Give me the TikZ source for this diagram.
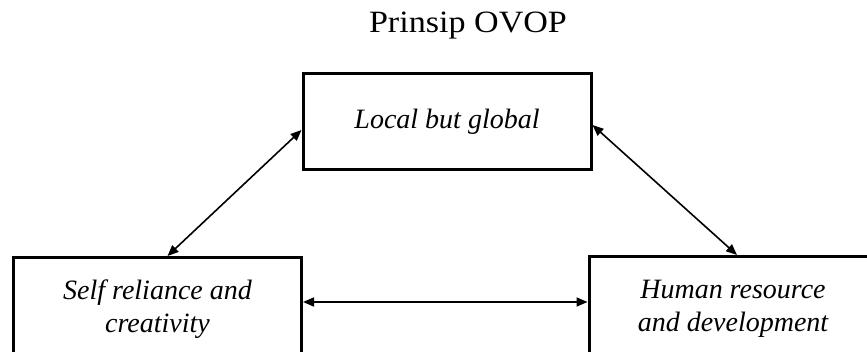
\documentclass[tikz,border=0pt]{standalone}
\usepackage{fontspec}
\setmainfont{Liberation Serif}
\newfontfamily\titlefont[FakeStretch=1.1]{Liberation Serif}
\usetikzlibrary{arrows.meta}
\tikzset{
  box/.style={draw, line width=3pt, minimum width=288pt, minimum height=96pt, inner sep=0pt, align=center, font=\fontsize{28}{33}\selectfont\itshape},
  lowbox/.style={box, minimum height=104pt},
  link/.style={line width=1.6pt, {Triangle[length=11pt,width=9pt]}-{Triangle[length=11pt,width=9pt]}}
}
\begin{document}
\begin{tikzpicture}[x=1pt,y=1pt]
\useasboundingbox (0,0) rectangle (867,-352);
\node[font=\titlefont\fontsize{31}{34}\selectfont, anchor=base] (title) at (468,-33) {Prinsip OVOP};
\node[box] (top) at (447,-122) {Local but global};
\node[lowbox] (left) at (157.5,-309.5) {Self reliance and\\creativity};
\node[lowbox] (right) at (733,-308.5) {Human resource\\and development};
\draw[link] ([yshift=-8pt]top.west) -- ([xshift=10pt]left.north);
\draw[link] ([yshift=-3pt]top.east) -- ([xshift=4pt]right.north);
\draw[link] ([yshift=7.5pt]left.east) -- ([yshift=6.5pt]right.west);
\end{tikzpicture}
\end{document}
